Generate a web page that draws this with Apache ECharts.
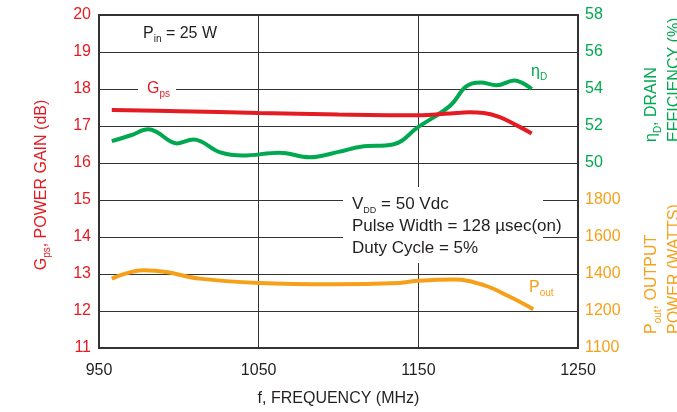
<!DOCTYPE html>
<html>
<head>
<meta charset="utf-8">
<script src="https://cdn.jsdelivr.net/npm/echarts@6/dist/echarts.min.js"></script>
<style>
html,body{margin:0;padding:0;background:#fff;}
#c{width:677px;height:412px;}
</style>
</head>
<body>
<div id="c"></div>
<script>
// ---- data ----
const gainFreq = [958, 1000, 1050, 1100, 1150, 1170, 1182, 1191, 1201, 1211, 1221];
const gainValues = [17.43, 17.40, 17.35, 17.31, 17.29, 17.34, 17.37, 17.35, 17.24, 17.03, 16.80];

const effFreq = [958, 970, 981, 986, 999, 1009, 1026, 1040, 1063, 1082, 1100, 1114, 1134, 1150, 1170, 1180, 1189, 1199, 1210, 1221];
const effValues = [51.18, 51.5, 51.82, 51.68, 51.06, 51.27, 50.57, 50.40, 50.56, 50.31, 50.6, 50.88, 51.0, 51.95, 53.1, 54.14, 54.35, 54.2, 54.46, 54.0];

const poutFreq = [958, 978, 992, 1013, 1050, 1097, 1138, 1150, 1172, 1191, 1207, 1222];
const poutValues = [1375, 1420, 1411, 1375, 1352, 1345, 1352, 1363, 1370, 1340, 1278, 1210];

const freqTicks = [950, 1050, 1150, 1250];
const gainTicks = [11, 12, 13, 14, 15, 16, 17, 18, 19, 20];
const effTicks = [50, 52, 54, 56, 58];
const poutTickValues = [1000, 1200, 1400, 1600, 1800];
const poutTickLabels = ['1100', '1200', '1400', '1600', '1800'];

const RED = '#e31b23', GREEN = '#00a84f', ORANGE = '#f6a01a', DARK = '#231f20';
const FONT = 'Liberation Sans, Arial, sans-serif';

const zip = (xs, ys) => xs.map((x, i) => [x, ys[i]]);

const chart = echarts.init(document.getElementById('c'), null, {renderer: 'canvas'});

function sub(color, size, lh) {
  size = size || 16; lh = lh || 20;
  return {
    m: {fill: color, fontSize: size, fontFamily: FONT, lineHeight: lh, verticalAlign: 'middle'},
    s: {fill: color, fontSize: Math.round(size * 0.62), fontFamily: FONT, lineHeight: lh, verticalAlign: 'bottom'}
  };
}

const option = {
  animation: false,
  backgroundColor: '#fff',
  grid: {left: 99, right: 99, top: 15, bottom: 60, show: true, borderColor: '#333', borderWidth: 2, backgroundColor: 'transparent'},
  xAxis: {
    type: 'value', min: 950, max: 1250, interval: 100,
    axisLine: {show: false}, axisTick: {show: false},
    splitLine: {show: true, lineStyle: {color: '#333', width: 1}},
    axisLabel: {color: DARK, fontSize: 16, fontFamily: FONT, margin: 15,
      formatter: v => freqTicks.includes(v) ? String(v) : ''},
    name: 'f, FREQUENCY (MHz)', nameLocation: 'middle', nameGap: 43,
    nameTextStyle: {color: DARK, fontSize: 16, fontFamily: FONT}
  },
  yAxis: [
    {
      type: 'value', min: 11, max: 20, interval: 1, position: 'left',
      axisLine: {show: false}, axisTick: {show: false},
      splitLine: {show: true, lineStyle: {color: '#333', width: 1}},
      axisLabel: {color: RED, fontSize: 16, fontFamily: FONT, margin: 8,
        formatter: v => gainTicks.includes(v) ? String(v) : ''}
    },
    {
      type: 'value', min: 40, max: 58, interval: 2, position: 'right',
      axisLine: {show: false}, axisTick: {show: false}, splitLine: {show: false},
      axisLabel: {color: GREEN, fontSize: 16, fontFamily: FONT, margin: 7,
        formatter: v => effTicks.includes(v) ? String(v) : ''}
    },
    {
      type: 'value', min: 1000, max: 2800, interval: 200, position: 'right', offset: 0,
      axisLine: {show: false}, axisTick: {show: false}, splitLine: {show: false},
      axisLabel: {color: ORANGE, fontSize: 16, fontFamily: FONT, margin: 7,
        formatter: v => { const i = poutTickValues.indexOf(v); return i >= 0 ? poutTickLabels[i] : ''; }}
    }
  ],
  series: [
    {type: 'line', name: 'Gps', yAxisIndex: 0, data: zip(gainFreq, gainValues), smooth: 0.4,
      showSymbol: false, lineStyle: {color: RED, width: 4}, z: 5},
    {type: 'line', name: 'ηD', yAxisIndex: 1, data: zip(effFreq, effValues), smooth: 0.4,
      showSymbol: false, lineStyle: {color: GREEN, width: 4}, z: 4},
    {type: 'line', name: 'Pout', yAxisIndex: 2, data: zip(poutFreq, poutValues), smooth: 0.4,
      showSymbol: false, lineStyle: {color: ORANGE, width: 4}, z: 4}
  ],
  graphic: [
    // left axis name
    {type: 'text', x: 42, y: 185, rotation: Math.PI / 2, z: 20,
      style: {text: '{m|G}{s|ps}{m|, POWER GAIN (dB)}', rich: sub(RED), align: 'center', verticalAlign: 'middle'}},
    // right axis names
    {type: 'text', x: 640, y: 142, rotation: Math.PI / 2, z: 20,
      style: {text: '{m|η}{s|D}{m|, DRAIN}\n{m|EFFICIENCY (%)}', rich: sub(GREEN, 16, 23), align: 'left', verticalAlign: 'top'}},
    {type: 'text', x: 640, y: 334, rotation: Math.PI / 2, z: 20,
      style: {text: '{m|P}{s|out}{m|, OUTPUT}\n{m|POWER (WATTS)}', rich: sub(ORANGE, 16, 23), align: 'left', verticalAlign: 'top'}},
    // Pin annotation
    {type: 'text', x: 143, y: 34, z: 20,
      style: {text: '{m|P}{s|in}{m| = 25 W}', rich: sub(DARK), align: 'left', verticalAlign: 'middle'}},
    // Gps label
    {type: 'rect', shape: {x: 138, y: 84, width: 38, height: 12}, style: {fill: '#fff'}, z: 19},
    {type: 'text', x: 147, y: 89, z: 20,
      style: {text: '{m|G}{s|ps}', rich: sub(RED), align: 'left', verticalAlign: 'middle'}},
    // eta label
    {type: 'text', x: 531, y: 72, z: 20,
      style: {text: '{m|η}{s|D}', rich: sub(GREEN), align: 'left', verticalAlign: 'middle'}},
    // Pout label
    {type: 'text', x: 529, y: 288, z: 20,
      style: {text: '{m|P}{s|out}', rich: sub(ORANGE), align: 'left', verticalAlign: 'middle'}},
    // conditions box
    {type: 'rect', shape: {x: 343, y: 187, width: 200, height: 76}, style: {fill: '#fff'}, z: 19},
    {type: 'text', x: 352, y: 193, z: 20,
      style: {text: '{m|V}{s|DD}{m| = 50 Vdc}\n{m|Pulse Width = 128 µsec(on)}\n{m|Duty Cycle = 5%}',
        rich: {
          m: {fill: DARK, fontSize: 17, fontFamily: FONT, lineHeight: 22, verticalAlign: 'middle'},
          s: {fill: DARK, fontSize: 9, fontFamily: FONT, lineHeight: 22, verticalAlign: 'bottom'}
        }, align: 'left', verticalAlign: 'top'}}
  ]
};
chart.setOption(option);
</script>
</body>
</html>
